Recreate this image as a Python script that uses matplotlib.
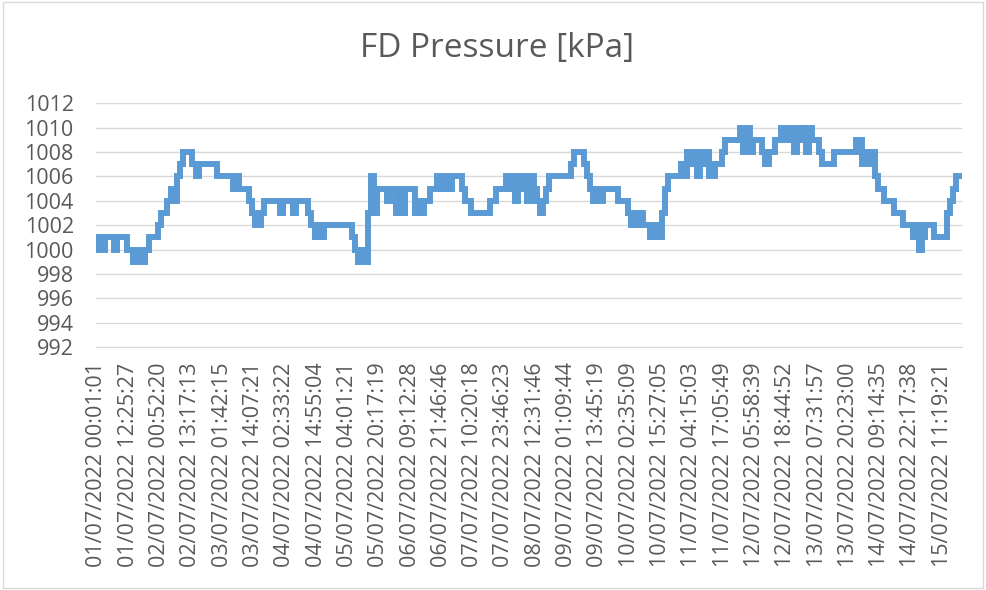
import numpy as np
import matplotlib.pyplot as plt
from matplotlib.patches import Rectangle

title = 'FD Pressure [kPa]'

tick_labels = ['01/07/2022 00:01:01', '01/07/2022 12:25:27', '02/07/2022 00:52:20',
               '02/07/2022 13:17:13', '03/07/2022 01:42:15', '03/07/2022 14:07:21',
               '04/07/2022 02:33:22', '04/07/2022 14:55:04', '05/07/2022 04:01:21',
               '05/07/2022 20:17:19', '06/07/2022 09:12:28', '06/07/2022 21:46:46',
               '07/07/2022 10:20:18', '07/07/2022 23:46:23', '08/07/2022 12:31:46',
               '09/07/2022 01:09:44', '09/07/2022 13:45:19', '10/07/2022 02:35:09',
               '10/07/2022 15:27:05', '11/07/2022 04:15:03', '11/07/2022 17:05:49',
               '12/07/2022 05:58:39', '12/07/2022 18:44:52', '13/07/2022 07:31:57',
               '13/07/2022 20:23:00', '14/07/2022 09:14:35', '14/07/2022 22:17:38',
               '15/07/2022 11:19:21']
label_every = 10

y_ticks = [992, 994, 996, 998, 1000, 1002, 1004, 1006, 1008, 1010, 1012]

# pressure readings (kPa), one row per labelled interval
pressure = [
    1000, 1001, 1000, 1001, 1001, 1001, 1000, 1001, 1001, 1001,
    1000, 1000, 999, 1000, 999, 999, 1000, 1001, 1001, 1001,
    1002, 1003, 1003, 1004, 1005, 1004, 1006, 1007, 1008, 1008,
    1008, 1007, 1006, 1007, 1007, 1007, 1007, 1007, 1007, 1006,
    1006, 1006, 1006, 1006, 1005, 1006, 1005, 1005, 1005, 1004,
    1003, 1002, 1002, 1003, 1004, 1004, 1004, 1004, 1004, 1003,
    1004, 1004, 1004, 1003, 1004, 1004, 1004, 1004, 1003, 1002,
    1001, 1002, 1001, 1002, 1002, 1002, 1002, 1002, 1002, 1002,
    1002, 1002, 1001, 1000, 999, 1000, 999, 1003, 1006, 1003,
    1005, 1005, 1005, 1004, 1005, 1005, 1003, 1005, 1003, 1005,
    1005, 1005, 1003, 1004, 1003, 1004, 1004, 1005, 1005, 1006,
    1006, 1005, 1006, 1005, 1006, 1006, 1006, 1005, 1004, 1004,
    1003, 1003, 1003, 1003, 1003, 1003, 1004, 1004, 1005, 1005,
    1005, 1006, 1005, 1006, 1004, 1006, 1005, 1006, 1004, 1006,
    1005, 1004, 1003, 1004, 1005, 1006, 1006, 1006, 1006, 1006,
    1006, 1006, 1007, 1008, 1008, 1008, 1007, 1006, 1005, 1004,
    1005, 1004, 1005, 1005, 1005, 1005, 1005, 1004, 1004, 1004,
    1003, 1002, 1003, 1002, 1003, 1002, 1002, 1001, 1002, 1001,
    1001, 1003, 1005, 1006, 1006, 1006, 1006, 1007, 1006, 1008,
    1007, 1008, 1006, 1008, 1007, 1008, 1006, 1006, 1007, 1007,
    1008, 1009, 1009, 1009, 1009, 1009, 1010, 1008, 1010, 1008,
    1009, 1009, 1009, 1008, 1007, 1008, 1008, 1009, 1009, 1010,
    1010, 1009, 1010, 1008, 1010, 1009, 1010, 1008, 1010, 1009,
    1009, 1008, 1007, 1007, 1007, 1007, 1008, 1008, 1008, 1008,
    1008, 1008, 1008, 1009, 1009, 1007, 1008, 1007, 1008, 1006,
    1005, 1005, 1004, 1004, 1004, 1003, 1003, 1003, 1002, 1002,
    1002, 1001, 1002, 1000, 1001, 1002, 1002, 1002, 1001, 1001,
    1001, 1001, 1003, 1004, 1005, 1006, 1006,
]

plt.rcParams['font.family'] = ['Open Sans', 'DejaVu Sans']
text_col = '#595959'
grid_col = '#d9d9d9'

fig = plt.figure(figsize=(9.86, 5.90), dpi=100)
ax = fig.add_axes([96 / 986, 243 / 590, 866 / 986, 243.7 / 590])

x = np.arange(len(pressure))
# readings are integer steps, so draw as steps like the logged series
ax.plot(x, pressure, color='#5B9BD5', lw=4.3, drawstyle='steps-mid',
        solid_joinstyle='miter')

ax.set_xlim(-0.3, len(pressure) - 0.7)
ax.set_ylim(y_ticks[0], y_ticks[-1])
ax.set_yticks(y_ticks)
ax.set_xticks(x[::label_every])
ax.set_xticklabels(tick_labels, rotation=90)

ax.grid(axis='y', color=grid_col, lw=1)
ax.set_axisbelow(True)
for s in ['top', 'right', 'left']:
    ax.spines[s].set_visible(False)
ax.spines['bottom'].set_color(grid_col)
ax.tick_params(length=0, colors=text_col, labelsize=15.5)
ax.tick_params(axis='y', pad=16)
ax.tick_params(axis='x', pad=11)

fig.text(497 / 986, 1 - 49 / 590, title, ha='center', va='center',
         fontsize=24, color=text_col)

fig.patches.append(Rectangle((0.003, 0.004), 0.994, 0.992, transform=fig.transFigure,
                             fill=False, ec=grid_col, lw=1))

fig.savefig('out.png', dpi=100)
